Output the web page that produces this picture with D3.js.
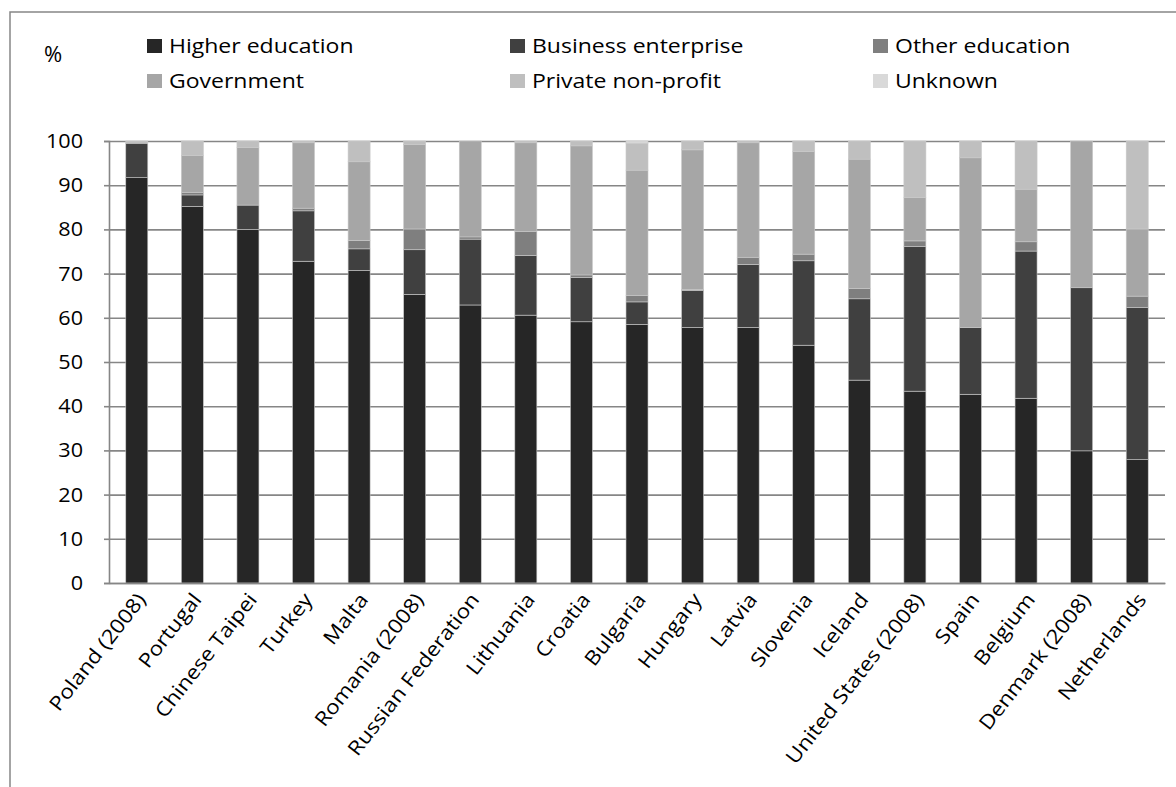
<!DOCTYPE html>
<html>
<head>
<meta charset="utf-8">
<script src="https://cdn.jsdelivr.net/npm/d3@7"></script>
<style>
  html, body { margin: 0; padding: 0; background: #fff; }
  svg { display: block; }
  text { font-family: "Open Sans", "DejaVu Sans", sans-serif; fill: #000; }
</style>
</head>
<body>
<svg id="chart" width="1176" height="787"></svg>
<script>
const categories = ["Poland (2008)","Portugal","Chinese Taipei","Turkey","Malta","Romania (2008)","Russian Federation","Lithuania","Croatia","Bulgaria","Hungary","Latvia","Slovenia","Iceland","United States (2008)","Spain","Belgium","Denmark (2008)","Netherlands"];
const higherEducation    = [91.7,85.2,80.0,72.8,70.7,65.3,62.9,60.6,59.1,58.5,57.8,57.8,53.8,45.9,43.4,42.7,41.8,29.9,27.9];
const businessEnterprise = [7.8,2.6,5.5,11.4,4.9,10.1,14.9,13.5,10.0,5.1,8.4,14.3,19.1,18.4,32.7,15.1,33.3,36.9,34.4];
const otherEducation     = [0,0.6,0,0.6,1.9,4.7,0.5,5.4,0.6,1.4,0.2,1.6,1.5,2.3,1.3,0,2.1,0,2.6];
const government         = [0,8.3,13.0,14.8,17.8,19.1,21.7,20.1,29.2,28.4,31.6,25.9,23.2,29.3,9.8,38.4,11.9,33.2,15.2];
const privateNonProfit   = [0.5,3.3,1.5,0.4,4.7,0.8,0,0.4,1.1,6.1,2.0,0.4,2.4,4.1,12.8,3.8,10.9,0,19.9];
const unknown            = [0,0,0,0,0,0,0,0,0,0.5,0,0,0,0,0,0,0,0,0];
const seriesNames = ["Higher education","Business enterprise","Other education","Government","Private non-profit","Unknown"];
const yTicks = [0,10,20,30,40,50,60,70,80,90,100];

const seriesValues = [higherEducation, businessEnterprise, otherEducation, government, privateNonProfit, unknown];
const colors = ["#262626","#404040","#7f7f7f","#a6a6a6","#bfbfbf","#d9d9d9"];

const rows = categories.map((c, i) => {
  const r = { category: c };
  seriesNames.forEach((s, k) => { r[s] = seriesValues[k][i]; });
  return r;
});

const svg = d3.select("#chart");
const gridColor = "#868686";

function stretch(sel, k) {
  sel.each(function() {
    const len = this.getComputedTextLength();
    if (len > 0) d3.select(this).attr("textLength", len * k).attr("lengthAdjust", "spacingAndGlyphs");
  });
}

// outer frame
svg.append("rect").attr("x", 10).attr("y", 12).attr("width", 1190).attr("height", 800)
  .attr("fill", "none").attr("stroke", gridColor).attr("stroke-width", 1.5);

const plotLeft = 109, plotRight = 1165, plotTop = 141, plotBottom = 583;
const x = d3.scaleBand().domain(categories).range([plotLeft, plotRight]).paddingInner(0.604).paddingOuter(0.302);
const y = d3.scaleLinear().domain([0, 100]).range([plotBottom, plotTop]);
const color = d3.scaleOrdinal().domain(seriesNames).range(colors);

// gridlines
const yAxisGrid = d3.axisLeft(y).tickValues(yTicks).tickSize(-(plotRight - plotLeft)).tickFormat("");
const gg = svg.append("g").attr("transform", `translate(${plotLeft},0)`).call(yAxisGrid);
gg.select(".domain").remove();
gg.selectAll("line").attr("stroke", gridColor).attr("stroke-width", 1.6);

// bars
const stacked = d3.stack().keys(seriesNames)(rows);
svg.append("g").selectAll("g").data(stacked).join("g")
  .attr("fill", d => color(d.key))
  .selectAll("rect").data(d => d).join("rect")
  .attr("x", d => x(d.data.category))
  .attr("y", d => y(d[1]))
  .attr("width", x.bandwidth())
  .attr("height", d => Math.max(0, y(d[0]) - y(d[1])))
  .attr("stroke", "#c8c8c8").attr("stroke-width", 0.6);

// y axis
const yAxis = d3.axisLeft(y).tickValues(yTicks).tickSize(5).tickPadding(21).tickFormat(d3.format("d"));
const ya = svg.append("g").attr("transform", `translate(${plotLeft},0)`).call(yAxis);
ya.select(".domain").attr("stroke", gridColor).attr("stroke-width", 1.6);
ya.selectAll("line").attr("stroke", gridColor).attr("stroke-width", 1.6);
ya.selectAll("text").style("font-size", "20px").attr("fill", "#000").call(stretch, 1.08);

// x axis
const xAxis = d3.axisBottom(x).tickSize(0).tickSizeOuter(0).tickPadding(0);
const xa = svg.append("g").attr("transform", `translate(0,${plotBottom})`).call(xAxis);
xa.select(".domain").attr("stroke", gridColor).attr("stroke-width", 1.6);
xa.selectAll("text")
  .style("font-size", "20px")
  .attr("fill", "#000")
  .attr("text-anchor", "end")
  .attr("dy", null).attr("y", null)
  .attr("transform", `translate(10,17) rotate(-52)`)
  .call(stretch, 1.12);

// "%" label
svg.append("text").attr("x", 44).attr("y", 62).style("font-size", "22px").text("%");

// legend
const legendX = [147, 510, 873];
const legendY = [46, 81];
const lg = svg.append("g").selectAll("g").data(seriesNames).join("g")
  .attr("transform", (d, i) => `translate(${legendX[i % 3]},${legendY[Math.floor(i / 3)]})`);
lg.append("rect").attr("x", 0).attr("y", -7).attr("width", 15).attr("height", 14).attr("fill", d => color(d));
lg.append("text").attr("x", 22).attr("y", 0).attr("dy", "0.35em").style("font-size", "20px").text(d => d)
  .call(stretch, 1.15);
</script>
</body>
</html>
